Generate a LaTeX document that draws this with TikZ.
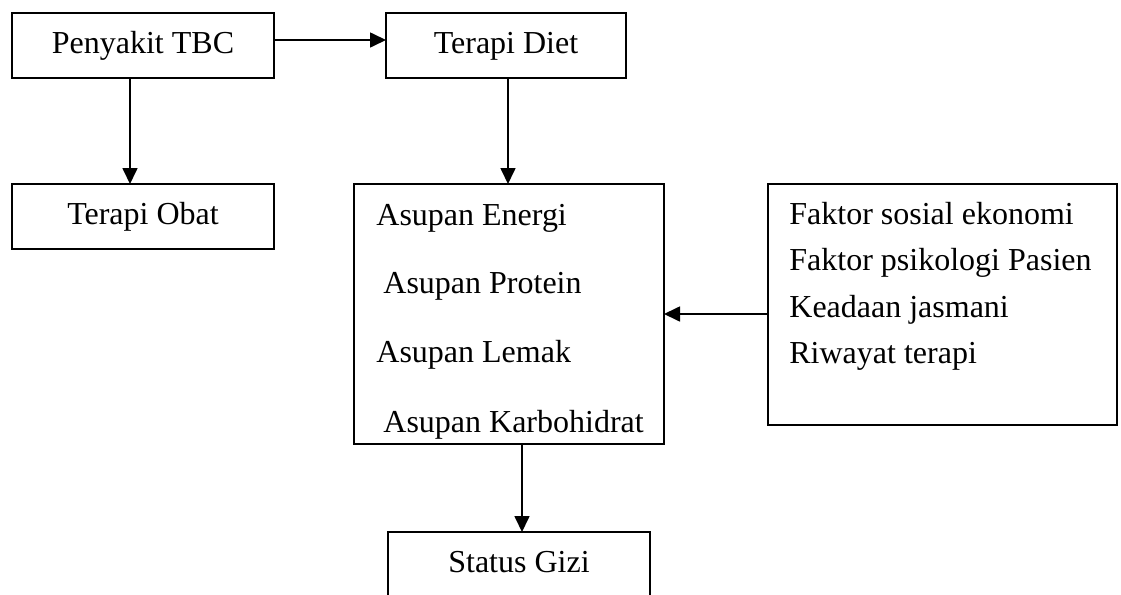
\documentclass[tikz,border=0pt]{standalone}
\usepackage{fontspec}
\setmainfont{Liberation Serif}
\usetikzlibrary{arrows.meta}
\begin{document}
\begin{tikzpicture}[x=0.5pt,y=-0.5pt,
  box/.style={draw=black,line width=0.65pt,rectangle,inner sep=0pt,outer sep=0pt,
    font=\fontsize{16}{19}\selectfont,text height=9pt,text depth=1.5pt},
  item/.style={anchor=base west,inner sep=0pt,font=\fontsize{16}{19}\selectfont},
  conn/.style={line width=0.85pt,-{Triangle[length=8pt,width=7.5pt]}}]
\useasboundingbox (0,0) rectangle (1121,595);
\begin{scope}
\clip (0,0) rectangle (1121,595);
\node[box,minimum width=131pt,minimum height=32.5pt] (tbc) at (143,45.5) {Penyakit TBC};
\node[box,minimum width=120pt,minimum height=32.5pt] (diet) at (506,45.5) {Terapi Diet};
\node[box,minimum width=131pt,minimum height=32.5pt] (obat) at (143,216.5) {Terapi Obat};
\node[box,minimum width=155pt,minimum height=130pt] (asupan) at (509,314) {};
\node[box,minimum width=174.5pt,minimum height=120.5pt] (faktor) at (942.5,304.5) {};
\node[box,minimum width=131pt,minimum height=32.5pt] (gizi) at (519,564.5) {Status Gizi};

\node[item] (a1) at (376,225) {Asupan Energi};
\node[item] (a2) at (383,293) {Asupan Protein};
\node[item] (a3) at (376,362) {Asupan Lemak};
\node[item] (a4) at (383,432) {Asupan Karbohidrat};

\node[item] (f1) at (789,224) {Faktor sosial ekonomi};
\node[item] (f2) at (789,270) {Faktor psikologi Pasien};
\node[item] (f3) at (789,317) {Keadaan jasmani};
\node[item] (f4) at (789,363) {Riwayat terapi};
\end{scope}

\draw[conn] ([yshift=2.75pt]tbc.east) -- ([yshift=2.75pt]diet.west);
\draw[conn] ([xshift=-6.5pt]tbc.south) -- ([xshift=-6.5pt]obat.north);
\draw[conn] ([xshift=1pt]diet.south) -- ([xshift=1pt]diet.south |- asupan.north);
\draw[conn] (faktor.west |- asupan.east) -- (asupan.east);
\draw[conn] ([xshift=1.5pt]gizi.north |- asupan.south) -- ([xshift=1.5pt]gizi.north);
\end{tikzpicture}
\end{document}
